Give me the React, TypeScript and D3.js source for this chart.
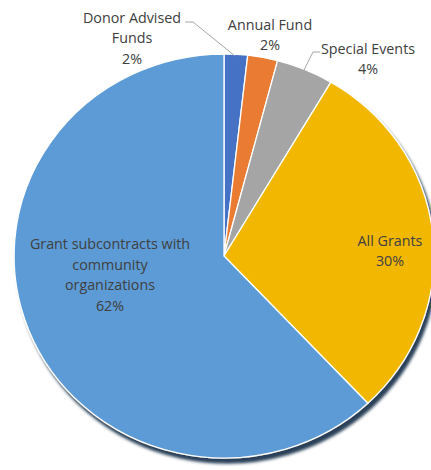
import * as d3 from "d3";
import { useEffect, useRef } from "react";

const categories = [
  "Donor Advised Funds",
  "Annual Fund",
  "Special Events",
  "All Grants",
  "Grant subcontracts with community organizations",
];
const values = [1.8, 2.3, 4.4, 29.5, 62.0];
const colors = ["#4472C4", "#E97C30", "#A5A5A5", "#F2B700", "#5B9BD5"];

// label lines per slice, plus an offset from the pie centre
const labelLines = [
  ["Donor Advised", "Funds", "2%"],
  ["Annual Fund", "2%"],
  ["Special Events", "4%"],
  ["All Grants", "30%"],
  ["Grant subcontracts with", "community", "organizations", "62%"],
];
const labelOffsets: [number, number][] = [
  [-92, -219],
  [46, -222],
  [144, -198],
  [166, -6],
  [-114, 18],
];

const App = () => {
  const svgRef = useRef<SVGSVGElement | null>(null);

  const dimensions = { width: 431, height: 470 };
  const center = { x: 224, y: 256 };
  const rx = 210;
  const ry = 202;

  useEffect(() => {
    const svg = d3.select(svgRef.current);
    svg.selectAll("*").remove();

    const defs = svg.append("defs");
    const filter = defs
      .append("filter")
      .attr("id", "shadow")
      .attr("x", "-10%")
      .attr("y", "-10%")
      .attr("width", "130%")
      .attr("height", "130%");
    filter
      .append("feDropShadow")
      .attr("dx", 3)
      .attr("dy", 5)
      .attr("stdDeviation", 1.5)
      .attr("flood-color", "#1d3550")
      .attr("flood-opacity", 0.95);

    const pie = d3
      .pie<number>()
      .sort(null)
      .value((d) => d);

    const arc = d3
      .arc<d3.PieArcDatum<number>>()
      .innerRadius(0)
      .outerRadius(1);

    const g = svg
      .append("g")
      .attr("transform", `translate(${center.x},${center.y})`);

    const slices = g
      .append("g")
      .attr("filter", "url(#shadow)")
      .append("g")
      .attr("transform", `scale(${rx},${ry})`);

    slices
      .selectAll("path")
      .data(pie(values))
      .join("path")
      .attr("d", arc)
      .attr("fill", (_, i) => colors[i])
      .attr("stroke", "#ffffff")
      .attr("stroke-width", 1.3)
      .attr("vector-effect", "non-scaling-stroke")
      .append("title")
      .text((_, i) => categories[i]);

    // leader lines
    const leader = d3.line();
    g.append("path")
      .attr(
        "d",
        leader([
          [-39, -234],
          [-31, -234],
          [11, -200],
        ])
      )
      .attr("fill", "none")
      .attr("stroke", "#a6a6a6")
      .attr("stroke-width", 1);
    g.append("path")
      .attr(
        "d",
        leader([
          [96, -204],
          [89, -204],
          [79, -184],
        ])
      )
      .attr("fill", "none")
      .attr("stroke", "#a6a6a6")
      .attr("stroke-width", 1);

    const lineH = 20.5;
    labelLines.forEach((lines, i) => {
      const [ox, oy] = labelOffsets[i];
      const text = g
        .append("text")
        .attr("x", ox)
        .attr("y", oy - ((lines.length - 1) * lineH) / 2)
        .attr("text-anchor", "middle")
        .attr("dominant-baseline", "central")
        .attr("font-family", "'Open Sans', sans-serif")
        .attr("font-size", 14.3)
        .attr("fill", "#404040");
      lines.forEach((l, j) => {
        text
          .append("tspan")
          .attr("x", ox)
          .attr("dy", j === 0 ? 0 : lineH)
          .text(l);
      });
    });
  }, []);

  return (
    <svg
      ref={svgRef}
      width={dimensions.width}
      height={dimensions.height}
      style={{ position: "absolute", left: 0, top: 0, background: "#fff" }}
    />
  );
};

export default App;
